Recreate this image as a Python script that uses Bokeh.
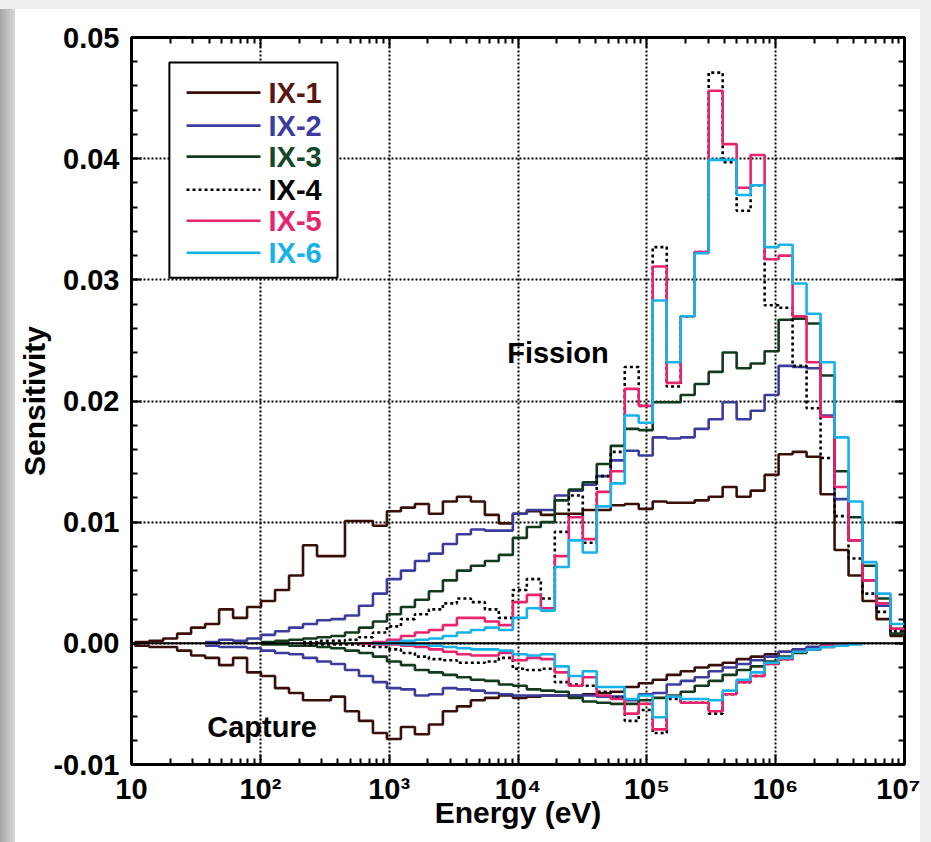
import numpy as np
from bokeh.plotting import figure
from bokeh.layouts import column, row
from bokeh.models import (Range1d, FixedTicker, LinearAxis, LogAxis, Span,
                          NumeralTickFormatter, Spacer)
from bokeh.embed import file_html
from bokeh.resources import INLINE
from bokeh.core.properties import value

# ---- energy group structure: equal lethargy width below 10 MeV ----
N_GROUPS = 56
E_TOP = 1.0e7
LETHARGY_WIDTH = 0.25
edges = E_TOP * np.exp(-LETHARGY_WIDTH * np.arange(N_GROUPS, -1, -1))  # ascending

N = None
# ---- fission sensitivities, per group from low to high energy ----
ix1_fission = [
    0.0000, 0.0001, 0.0002, 0.0004, 0.0008, 0.0013, 0.0016, 0.0028,
    0.0021, 0.0030, 0.0035, 0.0044, 0.0056, 0.0081, 0.0072, 0.0072,
    0.0101, 0.0101, 0.0097, 0.0109, 0.0112, 0.0115, 0.0107, 0.0117,
    0.0121, 0.0117, 0.0106, 0.0099, 0.0107, 0.0109, 0.0106, 0.0107,
    0.0107, 0.0110, 0.0110, 0.0114, 0.0115, 0.0111, 0.0117, 0.0116,
    0.0116, 0.0118, 0.0121, 0.0129, 0.0121, 0.0126, 0.0139, 0.0156,
    0.0158, 0.0154, 0.0123, 0.0077, 0.0056, 0.0035, 0.0020, 0.0006]
ix2_fission = [
    N, N, N, N, N, N, 0.0001, 0.0003,
    0.0002, 0.0004, 0.0007, 0.0010, 0.0013, 0.0016, 0.0019, 0.0020,
    0.0023, 0.0031, 0.0041, 0.0053, 0.0060, 0.0068, 0.0074, 0.0082,
    0.0090, 0.0094, 0.0093, 0.0093, 0.0107, 0.0110, 0.0110, 0.0122,
    0.0126, 0.0131, 0.0138, 0.0151, 0.0159, 0.0155, 0.0170, 0.0169,
    0.0170, 0.0177, 0.0185, 0.0199, 0.0185, 0.0192, 0.0205, 0.0229,
    0.0228, 0.0227, 0.0188, 0.0119, 0.0085, 0.0052, 0.0031, 0.0012]
ix3_fission = [
    N, N, N, N, N, N, N, N,
    N, N, 0.0001, 0.0002, 0.0003, 0.0004, 0.0005, 0.0006,
    0.0009, 0.0013, 0.0018, 0.0024, 0.0030, 0.0036, 0.0043, 0.0052,
    0.0060, 0.0064, 0.0068, 0.0073, 0.0087, 0.0096, 0.0100, 0.0118,
    0.0127, 0.0133, 0.0148, 0.0163, 0.0177, 0.0176, 0.0199, 0.0199,
    0.0205, 0.0214, 0.0224, 0.0240, 0.0227, 0.0231, 0.0241, 0.0267,
    0.0268, 0.0264, 0.0221, 0.0142, 0.0104, 0.0064, 0.0037, 0.0008]
ix4_fission = [
    N, N, N, N, N, N, N, N,
    N, N, N, N, N, 0.0001, 0.0002, 0.0002,
    0.0003, 0.0005, 0.0009, 0.0014, 0.0020, 0.0024, 0.0028, 0.0033,
    0.0037, 0.0034, 0.0028, 0.0021, 0.0044, 0.0053, 0.0037, 0.0092,
    0.0122, 0.0083, 0.0138, 0.0158, 0.0228, 0.0196, 0.0327, 0.0212,
    0.0270, 0.0323, 0.0471, 0.0397, 0.0357, 0.0378, 0.0279, 0.0277,
    0.0229, 0.0194, 0.0153, 0.0105, 0.0070, 0.0041, 0.0026, 0.0010]
ix5_fission = [
    N, N, N, N, N, N, N, N,
    N, N, N, N, N, N, N, N,
    N, 0.0000, 0.0001, 0.0003, 0.0006, 0.0009, 0.0011, 0.0015,
    0.0021, 0.0021, 0.0018, 0.0015, 0.0034, 0.0040, 0.0029, 0.0072,
    0.0104, 0.0086, 0.0125, 0.0142, 0.0210, 0.0196, 0.0311, 0.0215,
    0.0270, 0.0323, 0.0456, 0.0412, 0.0376, 0.0403, 0.0317, 0.0320,
    0.0270, 0.0232, 0.0187, 0.0129, 0.0085, 0.0052, 0.0033, 0.0012]
ix6_fission = [
    N, N, N, N, N, N, N, N,
    N, N, N, N, N, N, N, N,
    N, N, 0.0000, 0.0001, 0.0002, 0.0003, 0.0004, 0.0006,
    0.0009, 0.0011, 0.0013, 0.0011, 0.0021, 0.0029, 0.0027, 0.0063,
    0.0085, 0.0075, 0.0113, 0.0132, 0.0188, 0.0182, 0.0283, 0.0232,
    0.0270, 0.0322, 0.0399, 0.0399, 0.0370, 0.0378, 0.0327, 0.0329,
    0.0297, 0.0272, 0.0232, 0.0170, 0.0117, 0.0067, 0.0041, 0.0016]

# ---- capture sensitivities ----
ix1_capture = [
    0.0000, -0.0002, -0.0003, -0.0003, -0.0006, -0.0010, -0.0012, -0.0018,
    -0.0012, -0.0024, -0.0027, -0.0037, -0.0041, -0.0047, -0.0047, -0.0044,
    -0.0056, -0.0064, -0.0074, -0.0079, -0.0069, -0.0075, -0.0067, -0.0056,
    -0.0052, -0.0047, -0.0045, -0.0043, -0.0045, -0.0044, -0.0043, -0.0043,
    -0.0043, -0.0042, -0.0041, -0.0040, -0.0036, -0.0033, -0.0030, -0.0026,
    -0.0023, -0.0020, -0.0018, -0.0016, -0.0013, -0.0011, -0.0009, -0.0007,
    -0.0005, -0.0003, -0.0002, N, N, N, N, N]
ix2_capture = [
    N, N, N, N, N, N, -0.0002, -0.0003,
    -0.0003, -0.0004, -0.0006, -0.0008, -0.0009, -0.0012, -0.0015, -0.0017,
    -0.0022, -0.0027, -0.0032, -0.0037, -0.0038, -0.0043, -0.0042, -0.0037,
    -0.0038, -0.0039, -0.0041, -0.0042, -0.0043, -0.0043, -0.0043, -0.0043,
    -0.0043, -0.0043, -0.0044, -0.0044, -0.0047, -0.0042, -0.0041, -0.0034,
    -0.0031, -0.0028, -0.0023, -0.0020, -0.0017, -0.0014, -0.0011, -0.0007,
    -0.0005, -0.0003, -0.0002, N, N, N, N, N]
ix3_capture = [
    N, N, N, N, N, N, N, N,
    N, N, -0.0001, -0.0001, -0.0002, -0.0002, -0.0003, -0.0004,
    -0.0006, -0.0008, -0.0011, -0.0015, -0.0018, -0.0022, -0.0024, -0.0026,
    -0.0028, -0.0030, -0.0031, -0.0034, -0.0035, -0.0038, -0.0039, -0.0040,
    -0.0045, -0.0048, -0.0049, -0.0050, -0.0050, -0.0047, -0.0045, -0.0043,
    -0.0040, -0.0035, -0.0031, -0.0026, -0.0022, -0.0019, -0.0015, -0.0011,
    -0.0008, -0.0005, -0.0003, -0.0001, N, N, N, N]
ix4_capture = [
    N, N, N, N, N, N, N, N,
    N, N, N, N, N, -0.0001, -0.0001, -0.0001,
    -0.0001, -0.0002, -0.0003, -0.0005, -0.0008, -0.0011, -0.0013, -0.0014,
    -0.0016, -0.0016, -0.0015, -0.0012, -0.0021, -0.0022, -0.0021, -0.0032,
    -0.0034, -0.0035, -0.0040, -0.0045, -0.0064, -0.0055, -0.0074, -0.0046,
    -0.0049, -0.0049, -0.0058, -0.0042, -0.0032, -0.0027, -0.0017, -0.0013,
    -0.0007, -0.0005, -0.0002, N, N, N, N, N]
ix5_capture = [
    N, N, N, N, N, N, N, N,
    N, N, N, N, N, N, N, N,
    N, 0.0000, -0.0001, -0.0001, -0.0002, -0.0003, -0.0005, -0.0007,
    -0.0009, -0.0010, -0.0010, -0.0008, -0.0014, -0.0012, -0.0013, -0.0024,
    -0.0035, -0.0028, -0.0043, -0.0046, -0.0058, -0.0050, -0.0071, -0.0044,
    -0.0049, -0.0049, -0.0056, -0.0042, -0.0032, -0.0027, -0.0017, -0.0013,
    -0.0007, -0.0005, -0.0002, -0.0001, N, N, N, N]
ix6_capture = [
    N, N, N, N, N, N, N, N,
    N, N, N, N, N, N, N, N,
    N, N, 0.0000, 0.0000, -0.0001, -0.0001, -0.0002, -0.0003,
    -0.0004, -0.0005, -0.0005, -0.0006, -0.0009, -0.0010, -0.0009, -0.0019,
    -0.0027, -0.0023, -0.0036, -0.0036, -0.0046, -0.0043, -0.0061, -0.0044,
    -0.0046, -0.0046, -0.0047, -0.0039, -0.0030, -0.0024, -0.0016, -0.0012,
    -0.0007, -0.0005, -0.0003, -0.0002, -0.0001, N, N, N]

series_names = ["IX-1", "IX-2", "IX-3", "IX-4", "IX-5", "IX-6"]
fission = [ix1_fission, ix2_fission, ix3_fission, ix4_fission, ix5_fission, ix6_fission]
capture = [ix1_capture, ix2_capture, ix3_capture, ix4_capture, ix5_capture, ix6_capture]
line_colors = ["#3a0f08", "#3c3c9e", "#123a1c", "#000000", "#e8246e", "#17b2ea"]
label_colors = ["#5a1610", "#3c3c9e", "#14482a", "#000000", "#e8246e", "#17b2ea"]
line_dashes = ["solid", "solid", "solid", "3 3", "solid", "solid"]

x_ticks = [10, 100, 1000, 10000, 100000, 1000000, 10000000]
x_tick_labels = ["10", "10²", "10³", "10⁴", "10⁵", "10⁶", "10⁷"]
x_minor = [m * 10 ** d for d in range(1, 7) for m in range(2, 10)]
y_ticks = [-0.01, 0.0, 0.01, 0.02, 0.03, 0.04, 0.05]
y_minor = [round(-0.01 + 0.002 * i, 3) for i in range(31)]

FONT = "Liberation Sans"


def step_path(vals):
    """Histogram outline over the group edges; None leaves a gap."""
    xs, ys = [], []
    for j, v in enumerate(vals):
        if v is None:
            if xs and not np.isnan(ys[-1]):
                xs.append(np.nan)
                ys.append(np.nan)
            continue
        xs += [edges[j], edges[j + 1]]
        ys += [v, v]
    return xs, ys


p = figure(width=905, height=833, x_axis_type="log",
           x_range=Range1d(10, 1e7), y_range=Range1d(-0.01, 0.05),
           output_backend="svg", toolbar_location=None,
           min_border_left=116, min_border_right=16,
           min_border_top=28, min_border_bottom=78)
p.background_fill_color = "white"
p.border_fill_color = "white"
p.outline_line_color = "black"
p.outline_line_width = 3

xticker = FixedTicker(ticks=x_ticks, minor_ticks=x_minor)
yticker = FixedTicker(ticks=y_ticks, minor_ticks=y_minor)


def style_axis(ax, labels=True):
    ax.axis_line_color = None
    ax.major_tick_in = 10
    ax.major_tick_out = 0
    ax.minor_tick_in = 6
    ax.minor_tick_out = 0
    ax.major_tick_line_width = 2
    ax.minor_tick_line_width = 2
    ax.major_tick_line_color = "black"
    ax.minor_tick_line_color = "black"
    if labels:
        ax.major_label_text_font = FONT
        ax.major_label_text_font_style = "bold"
        ax.major_label_text_font_size = "29px"
        ax.major_label_text_color = "black"
        ax.axis_label_text_font = FONT
        ax.axis_label_text_font_style = "bold"
        ax.axis_label_text_font_size = "30px"
        ax.axis_label_text_color = "black"
    else:
        # mirrored tick marks only
        ax.major_label_text_font_size = "2px"
        ax.major_label_text_color = None
        ax.major_label_standoff = 0


p.xaxis.ticker = xticker
p.yaxis.ticker = yticker
p.xaxis.major_label_overrides = dict(zip(x_ticks, x_tick_labels))
p.yaxis.formatter = NumeralTickFormatter(format="0.00")
p.xaxis.axis_label = "Energy (eV)"
p.yaxis.axis_label = "Sensitivity"
style_axis(p.xaxis[0])
style_axis(p.yaxis[0])
p.xaxis.major_label_standoff = 8
p.yaxis.major_label_standoff = 12
p.xaxis.axis_label_standoff = -12
p.yaxis.axis_label_standoff = -1

top_axis = LogAxis(ticker=xticker)
style_axis(top_axis, labels=False)
p.add_layout(top_axis, "above")
right_axis = LinearAxis(ticker=yticker)
style_axis(right_axis, labels=False)
p.add_layout(right_axis, "right")

for g in (p.xgrid[0], p.ygrid[0]):
    g.grid_line_color = "black"
    g.grid_line_dash = "2 2"
    g.grid_line_width = 2
p.xgrid.ticker = xticker
p.ygrid.ticker = yticker

p.add_layout(Span(location=0, dimension="width", line_color="black", line_width=2))

for vals_f, vals_c, col, dash in zip(fission, capture, line_colors, line_dashes):
    for vals in (vals_f, vals_c):
        xs, ys = step_path(vals)
        p.line(xs, ys, line_color=col, line_width=2.6, line_dash=dash)


# frame-fraction helpers for labels placed inside the plot area
def fx(frac):
    return 10 ** (1 + 6 * frac)


def fy(frac):
    return -0.01 + 0.06 * frac


p.text(x=[fx(0.486)], y=[fy(0.566)], text=["Fission"], text_font=value(FONT),
       text_font_style="bold", text_font_size="29px", text_color="black",
       text_baseline="middle", text_align="left")
p.text(x=[fx(0.098)], y=[fy(0.0517)], text=["Capture"], text_font=value(FONT),
       text_font_style="bold", text_font_size="29px", text_color="black",
       text_baseline="middle", text_align="left")

# legend box with coloured labels
p.quad(left=[fx(0.049)], right=[fx(0.2665)], top=[fy(0.9656)], bottom=[fy(0.6694)],
       fill_color="white", line_color="black", line_width=2)
row_fracs = [0.9242, 0.8788, 0.8361, 0.7906, 0.7479, 0.7039]
for name, col, lcol, dash, rf in zip(series_names, line_colors, label_colors, line_dashes, row_fracs):
    p.line([fx(0.0712), fx(0.1669)], [fy(rf), fy(rf)], line_color=col, line_width=2.6, line_dash=dash)
    p.text(x=[fx(0.1772)], y=[fy(rf)], text=[name], text_font=value(FONT),
           text_font_style="bold", text_font_size="29px", text_color=lcol,
           text_baseline="middle", text_align="left")

# grey page margins around the white figure
top_strip = Spacer(width=931, height=9, styles={"background-color": "#eeeeee"})
left_strip = Spacer(width=15, height=833,
                    styles={"background": "linear-gradient(to right, #a6a6a6, #d8d8d8)"})
right_strip = Spacer(width=11, height=833, styles={"background-color": "#eeeeee"})
page = column(top_strip, row(left_strip, p, right_strip, spacing=0), spacing=0)

open("out.html", "w").write(file_html(page, INLINE))
